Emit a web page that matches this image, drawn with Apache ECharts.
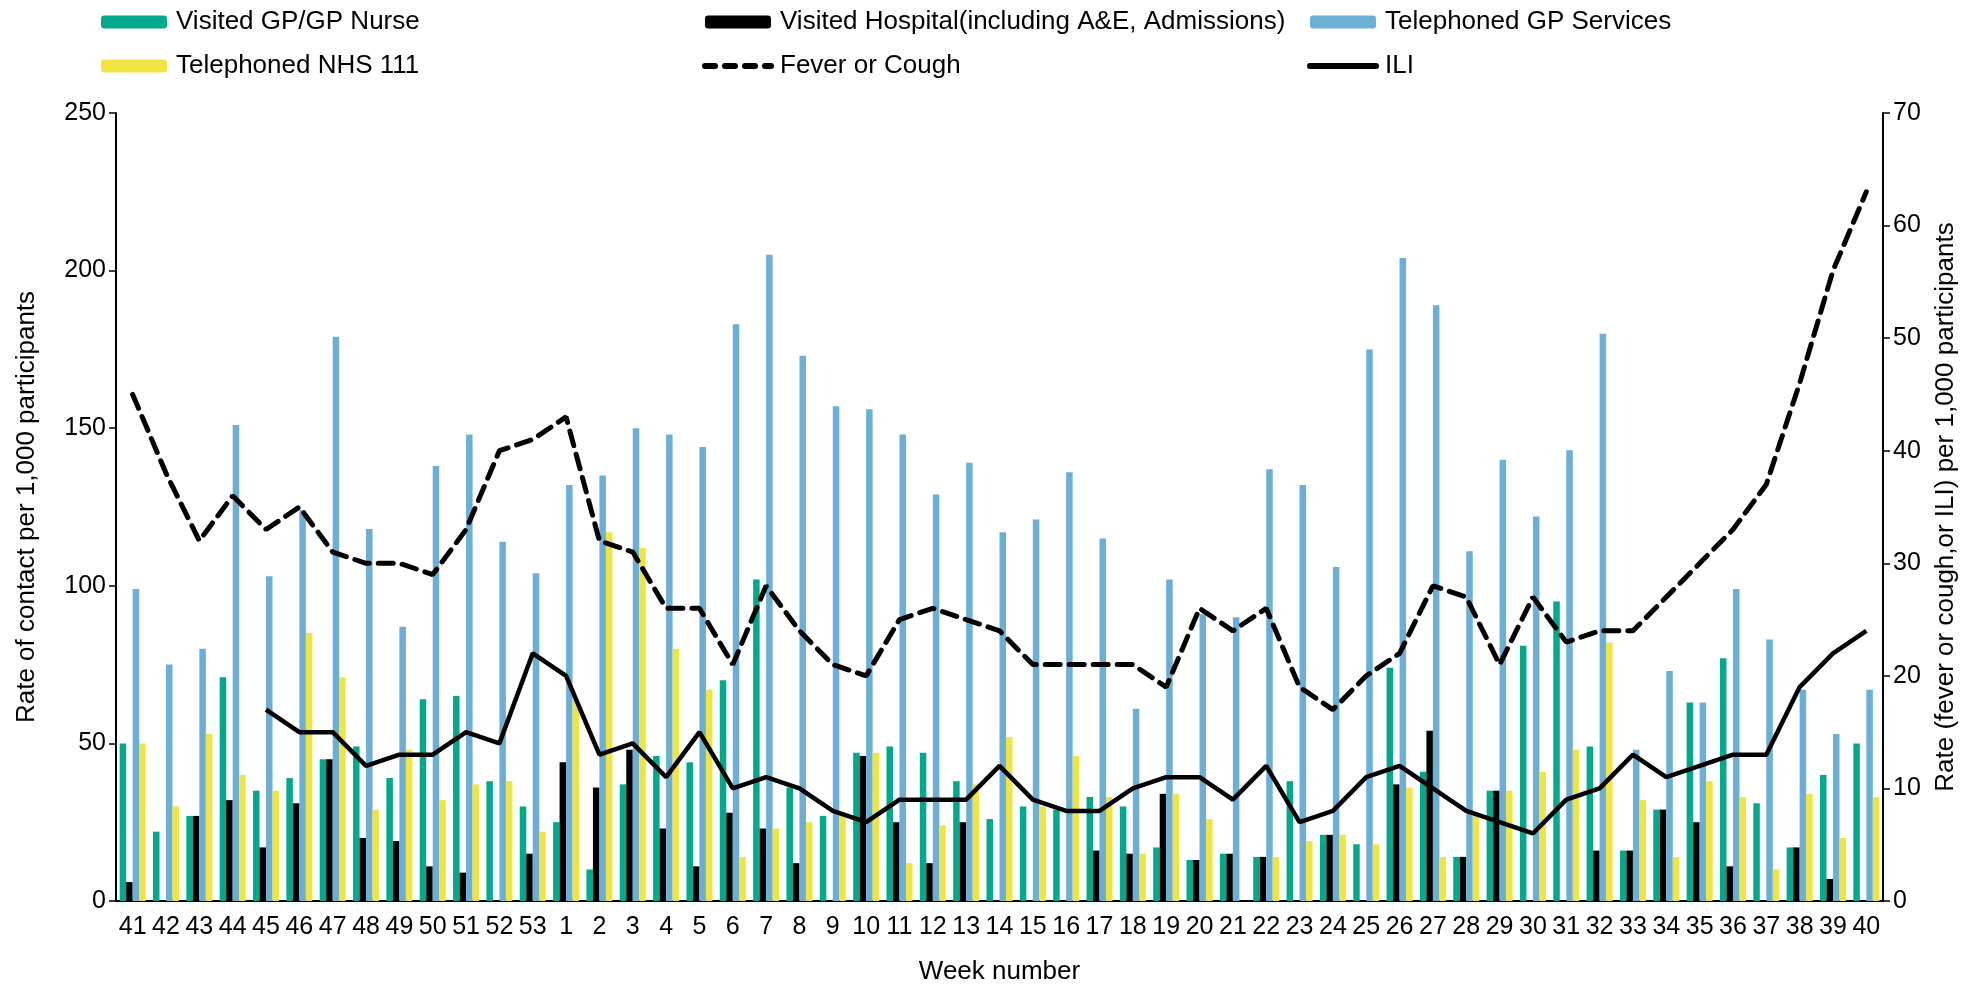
<!DOCTYPE html>
<html>
<head>
<meta charset="utf-8">
<script src="https://cdn.jsdelivr.net/npm/echarts@6/dist/echarts.min.js"></script>
<style>
  html, body { margin: 0; padding: 0; background: #fff; }
  #chart { width: 1977px; height: 990px; }
</style>
</head>
<body>
<div id="chart"></div>
<script>
// week numbers (41..53 then 1..40)
const weeks = ['41','42','43','44','45','46','47','48','49','50','51','52','53',
  '1','2','3','4','5','6','7','8','9','10','11','12','13','14','15','16','17','18','19','20',
  '21','22','23','24','25','26','27','28','29','30','31','32','33','34','35','36','37','38','39','40']

// rate of contact per 1,000 participants
const visitedGP = [50,22,27,71,35,39,45,49,39,64,65,38,30,
  25,10,37,46,44,70,102,36,27,47,49,47,38,26,30,29,33,30,17,13,
  15,14,38,21,18,74,41,14,35,81,95,49,16,29,63,77,31,17,40,50]
const visitedHospital = [6,0,27,32,17,31,45,20,19,11,9,0,15,
  44,36,48,23,11,28,23,12,0,46,25,12,25,0,0,0,16,15,34,13,
  15,14,0,21,0,37,54,14,35,0,0,16,16,29,25,11,0,17,7,0]
const phonedGP = [99,75,80,151,103,124,179,118,87,138,148,114,104,
  132,135,150,148,144,183,205,173,157,156,148,129,139,117,121,136,115,61,102,91,
  90,137,132,106,175,204,189,111,140,122,143,180,48,73,63,99,83,67,53,67]
const phonedNHS111 = [50,30,53,40,35,85,71,29,48,32,37,38,22,
  64,117,112,80,67,14,23,25,28,47,12,24,37,52,30,46,33,15,34,26,
  0,14,19,21,18,36,14,27,35,41,48,82,32,14,38,33,10,34,20,33]

// rate (fever or cough, or ILI) per 1,000 participants
const feverCough = [45,38,32,36,33,35,31,30,30,29,33,40,41,
  43,32,31,26,26,21,28,24,21,20,25,26,25,24,21,21,21,21,19,26,
  24,26,19,17,20,22,28,27,21,27,23,24,24,27,30,33,37,46,56,63]
const ili = [null,null,null,null,17,15,15,12,13,13,15,14,22,
  20,13,14,11,15,10,11,10,8,7,9,9,9,12,9,8,8,10,11,11,
  9,12,7,8,11,12,10,8,7,6,9,10,13,11,12,13,13,19,22,24]

const FONT = 'Liberation Sans, Arial, sans-serif'
const chart = echarts.init(document.getElementById('chart'))

const legendBase = {
  orient: 'vertical',
  top: 4,
  itemWidth: 66,
  itemHeight: 13,
  itemGap: 18,
  textStyle: { fontFamily: FONT, fontSize: 26, color: '#000', lineHeight: 26, padding: [0, 0, 0, 4] }
}

// line entries in the legend: no marker, just a thick stroke
const lineLegend = (name, type) => ({
  name,
  itemStyle: { opacity: 0 },
  lineStyle: { width: 6, color: '#000', type, cap: 'round' }
})

const barSeries = (name, data, color) => ({
  name,
  type: 'bar',
  data,
  barWidth: 6.5,
  barGap: '0%',
  itemStyle: { color }
})

chart.setOption({
  animation: false,
  textStyle: { fontFamily: FONT },
  legend: [
    { ...legendBase, left: 96, data: ['Visited GP/GP Nurse', 'Telephoned NHS 111'] },
    { ...legendBase, left: 697, data: ['Visited Hospital(including A&E, Admissions)', lineLegend('Fever or Cough', [10, 10])] },
    { ...legendBase, left: 1302, data: ['Telephoned GP Services', lineLegend('ILI', 'solid')] }
  ],
  grid: { left: 116, right: 94, top: 113, bottom: 86 },
  xAxis: {
    type: 'category',
    data: weeks,
    name: 'Week number',
    nameLocation: 'middle',
    nameGap: 58,
    nameTextStyle: { fontSize: 26, color: '#000', fontFamily: FONT },
    axisLine: { lineStyle: { color: '#000', width: 2 } },
    axisTick: { length: 7, lineStyle: { color: '#000', width: 1.5 } },
    axisLabel: { interval: 0, fontSize: 25, color: '#000', margin: 14, fontFamily: FONT }
  },
  yAxis: [
    {
      type: 'value',
      min: 0, max: 250, interval: 50,
      name: 'Rate of contact per 1,000 participants',
      nameLocation: 'middle',
      nameGap: 76,
      nameTextStyle: { fontSize: 26, color: '#000', fontFamily: FONT },
      splitLine: { show: false },
      axisLine: { show: true, lineStyle: { color: '#000', width: 2 } },
      axisTick: { show: true, length: 7, lineStyle: { color: '#000', width: 1.5 } },
      axisLabel: { fontSize: 25, color: '#000', margin: 10, fontFamily: FONT }
    },
    {
      type: 'value',
      min: 0, max: 70, interval: 10,
      position: 'right',
      name: 'Rate (fever or cough,or ILI) per 1,000 participants',
      nameLocation: 'middle',
      nameGap: 50,
      nameRotate: 90,
      nameTextStyle: { fontSize: 26, color: '#000', fontFamily: FONT, padding: [0, 0, 20, 0] },
      splitLine: { show: false },
      axisLine: { show: true, lineStyle: { color: '#000', width: 2 } },
      axisTick: { show: true, length: 7, lineStyle: { color: '#000', width: 1.5 } },
      axisLabel: { fontSize: 25, color: '#000', margin: 10, fontFamily: FONT }
    }
  ],
  series: [
    barSeries('Visited GP/GP Nurse', visitedGP, '#00A98B'),
    barSeries('Visited Hospital(including A&E, Admissions)', visitedHospital, '#000000'),
    barSeries('Telephoned GP Services', phonedGP, '#6BAED6'),
    barSeries('Telephoned NHS 111', phonedNHS111, '#F0E442'),
    {
      name: 'Fever or Cough',
      type: 'line',
      yAxisIndex: 1,
      data: feverCough,
      symbol: 'none',
      itemStyle: { color: '#000' },
      lineStyle: { color: '#000', width: 5, type: [15, 9], cap: 'round' }
    },
    {
      name: 'ILI',
      type: 'line',
      yAxisIndex: 1,
      data: ili,
      symbol: 'none',
      itemStyle: { color: '#000' },
      lineStyle: { color: '#000', width: 4.5 }
    }
  ]
})

window.addEventListener('resize', () => chart.resize())
</script>
</body>
</html>
